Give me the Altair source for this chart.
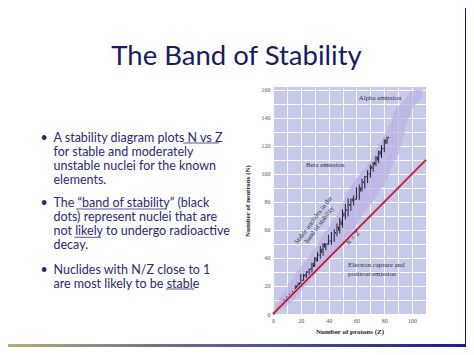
import altair as alt
import pandas as pd

# ---------------- data ----------------
Z_STABLE = [1, 2, 3, 4, 5, 6, 7, 8, 9, 10, 11, 12, 13, 14, 15, 16, 17, 18, 19, 20,
            21, 22, 23, 24, 25, 26, 27, 28, 29, 30, 31, 32, 33, 34, 35, 36, 37, 38, 39, 40,
            41, 42, 44, 45, 46, 47, 48, 49, 50, 51, 52, 53, 54, 55, 56, 57, 58, 59, 60,
            62, 63, 64, 65, 66, 67, 68, 69, 70, 71, 72, 73, 74, 75, 76, 77, 78, 79, 80,
            81, 82, 83]
N_STABLE_LO = [0, 1, 3, 5, 5, 6, 7, 8, 10, 10, 12, 12, 14, 14, 16, 16, 18, 18, 20, 20,
               24, 24, 27, 26, 30, 28, 32, 30, 34, 34, 38, 38, 42, 40, 44, 42, 48, 46, 50, 50,
               52, 50, 52, 58, 56, 60, 58, 64, 62, 70, 68, 74, 70, 78, 74, 81, 78, 82, 82,
               82, 88, 88, 94, 90, 98, 94, 100, 98, 104, 102, 107, 106, 110, 108, 114, 112, 118, 116,
               122, 122, 126]
N_STABLE_HI = [1, 2, 4, 5, 6, 7, 8, 10, 10, 12, 12, 14, 14, 16, 16, 20, 20, 22, 22, 28,
               24, 28, 28, 30, 30, 32, 32, 36, 36, 40, 40, 44, 42, 48, 46, 50, 50, 50, 50, 56,
               52, 58, 60, 58, 64, 62, 68, 66, 74, 72, 78, 74, 82, 78, 82, 82, 84, 82, 90,
               92, 90, 96, 94, 98, 98, 102, 100, 106, 105, 108, 108, 112, 112, 116, 116, 120, 118, 124,
               124, 126, 126]

Z_BAND = [1, 2, 3, 4, 5, 6, 7, 8, 9, 10, 11, 12, 13, 14, 15, 16, 17, 18, 19, 20,
          21, 22, 23, 24, 25, 26, 27, 28, 29, 30, 31, 32, 33, 34, 35, 36, 37, 38, 39, 40,
          41, 42, 43, 44, 45, 46, 47, 48, 49, 50, 51, 52, 53, 54, 55, 56, 57, 58, 59, 60,
          61, 62, 63, 64, 65, 66, 67, 68, 69, 70, 71, 72, 73, 74, 75, 76, 77, 78, 79, 80,
          81, 82, 83, 84, 85, 86, 87, 88, 89, 90, 91, 92, 93, 94, 95, 96, 97, 98, 99, 100,
          101, 102, 103, 104, 105, 106, 107]
N_BAND_LO = [0, 1, 1, 2, 3, 3, 4, 4, 5, 6, 7, 8, 9, 9, 10, 11, 14, 14, 16, 16,
             18, 18, 20, 20, 22, 23, 25, 25, 27, 28, 30, 30, 32, 33, 35, 35, 37, 38, 40, 40,
             42, 41, 43, 43, 44, 45, 47, 48, 49, 50, 52, 54, 55, 56, 57, 58, 60, 61, 62, 64,
             65, 67, 68, 70, 72, 73, 73, 75, 76, 78, 79, 81, 82, 84, 85, 86, 88, 90, 91, 91,
             95, 96, 99, 100, 104, 106, 108, 110, 112, 114, 117, 120, 124, 128, 132, 136, 139, 141, 144, 146,
             148, 149, 150, 151, 152, 153, 155]
N_BAND_HI = [2, 6, 8, 8, 12, 13, 14, 15, 17, 19, 21, 22, 24, 25, 26, 28, 30, 31, 32, 34,
             35, 36, 37, 38, 40, 41, 43, 44, 46, 47, 48, 50, 51, 53, 55, 56, 58, 59, 60, 62,
             63, 65, 66, 67, 69, 70, 72, 74, 76, 79, 81, 83, 85, 87, 89, 91, 92, 94, 95, 97,
             98, 99, 101, 102, 103, 104, 105, 107, 108, 109, 111, 113, 115, 117, 119, 121, 122, 124, 126, 128,
             130, 132, 134, 136, 137, 140, 145, 146, 147, 148, 149, 150, 151, 152, 153, 155, 156, 158, 159, 159,
             159, 160, 160, 160, 160, 160, 160]

LINE_Z = [0, 110]
LINE_N = [0, 110]

X_TICKS = [0, 10, 20, 30, 40, 50, 60, 70, 80, 90, 100, 110]
Y_TICKS = [0, 10, 20, 30, 40, 50, 60, 70, 80, 90, 100, 110, 120, 130, 140, 150, 160]

TITLE = "The Band of Stability"
BULLET1 = ["A stability diagram plots N vs Z", "for stable and moderately",
           "unstable nuclei for the known", "elements."]
BULLET2 = ["The \u201cband of stability\u201d (black", "dots) represent nuclei that are",
           "not likely to undergo radioactive", "decay."]
BULLET3 = ["Nuclides with N/Z close to 1", "are most likely to be stable"]

# ---------------- styles ----------------
NAVY = "#1a1a66"
TEXT_NAVY = "#2a2a70"
SERIF = "Liberation Serif"
SANS = "Lato"

stable = pd.DataFrame({"Z": Z_STABLE, "lo": N_STABLE_LO, "hi": N_STABLE_HI})
band = pd.DataFrame({"Z": Z_BAND, "lo": N_BAND_LO, "hi": N_BAND_HI})
nz = pd.DataFrame({"Z": LINE_Z, "N": LINE_N})

xscale = alt.Scale(domain=[0, 110], nice=False, zero=False)
yscale = alt.Scale(domain=[0, 162], nice=False, zero=False)

LBL = "datum.value % 20 == 0 ? datum.label : ''"
xaxis = alt.Axis(values=X_TICKS, title="Number of protons (Z)", titlePadding=4,
                 labelExpr=LBL, labelOverlap=False, labelFlush=False)
yaxis = alt.Axis(values=Y_TICKS, title="Number of neutrons (N)", titlePadding=11,
                 labelExpr=LBL, labelOverlap=False, labelFlush=False)

band_layer = alt.Chart(band).transform_calculate(
    z0="datum.Z - 0.5", z1="datum.Z + 0.5"
).mark_rect(color="#b9b1e2", opacity=0.8).encode(
    x=alt.X("z0:Q", scale=xscale, axis=xaxis),
    x2="z1:Q",
    y=alt.Y("lo:Q", scale=yscale, axis=yaxis),
    y2="hi:Q",
)

stable_layer = alt.Chart(stable).transform_calculate(
    z0="datum.Z - 0.35", z1="datum.Z + 0.35", n0="datum.lo - 0.5", n1="datum.hi + 0.5"
).mark_rect(color="#1a1a2c").encode(
    x=alt.X("z0:Q", scale=xscale, axis=xaxis), x2="z1:Q",
    y=alt.Y("n0:Q", scale=yscale, axis=yaxis), y2="n1:Q",
)

line_glow = alt.Chart(nz).mark_line(color="#e89ab6", strokeWidth=3.2).encode(
    x=alt.X("Z:Q", scale=xscale, axis=xaxis), y=alt.Y("N:Q", scale=yscale, axis=yaxis))
line_core = alt.Chart(nz).mark_line(color="#8e0f3a", strokeWidth=1.3).encode(
    x=alt.X("Z:Q", scale=xscale, axis=xaxis), y=alt.Y("N:Q", scale=yscale, axis=yaxis))


def note(txt, z, n, align="center", angle=0, style="normal"):
    return alt.Chart(pd.DataFrame({"t": [txt], "Z": [z], "N": [n]})).mark_text(
        font=SERIF, fontSize=6.8, color="#2f2f48", align=align, baseline="middle",
        angle=angle, fontStyle=style, lineHeight=7.5
    ).encode(x=alt.X("Z:Q", scale=xscale, axis=xaxis),
             y=alt.Y("N:Q", scale=yscale, axis=yaxis), text="t:N")


notes = [
    note("Alpha emission", 77, 154.5),
    note("Beta emission", 37.5, 106),
    note("Electron capture and", 54, 35, align="left"),
    note("positron emission", 54, 28.5, align="left"),
    note(["Stable nuclides in the", "band of stability"], 29, 67, angle=307),
    note("N = Z", 57.5, 54, angle=314, style="italic"),
]


def slide_text(lines, x, y, size, color, font=SANS, align="left", lh=14):
    return alt.Chart(pd.DataFrame({"t": [lines]})).mark_text(
        font=font, fontSize=size, color=color, align=align, baseline="alphabetic",
        lineHeight=lh
    ).encode(x=alt.value(x), y=alt.value(y), text="t:N")


def underline(x0, x1, y):
    return alt.Chart(pd.DataFrame({"a": [0]})).mark_rule(color=TEXT_NAVY, strokeWidth=0.8).encode(
        x=alt.value(x0), x2=alt.value(x1), y=alt.value(y))


BX = -219.5
slide = [
    slide_text(TITLE, -36.5, -22, 27.5, NAVY, align="center"),
    slide_text("\u2022", -229, 54.5, 12.5, TEXT_NAVY, align="center"),
    slide_text(BULLET1, BX, 54.5, 12.5, TEXT_NAVY),
    slide_text("\u2022", -229, 120, 12.5, TEXT_NAVY, align="center"),
    slide_text(BULLET2, BX, 120, 12.5, TEXT_NAVY),
    slide_text("\u2022", -229, 187, 12.5, TEXT_NAVY, align="center"),
    slide_text(BULLET3, BX, 187, 12.5, TEXT_NAVY),
    underline(-89.7, -54, 56),
    underline(-197, -106, 122),
    underline(-198.7, -172, 150.3),
    underline(-107, -78.7, 202),
]

frame_bottom = alt.Chart(pd.DataFrame({"a": [0]})).mark_rect(
    color=alt.Gradient(gradient="linear", x1=0, x2=1, y1=0, y2=0,
                       stops=[alt.GradientStop(offset=0, color="#b8ad78"),
                              alt.GradientStop(offset=0.35, color="#6a6f8a"),
                              alt.GradientStop(offset=1, color="#1a1f8a")])
).encode(x=alt.value(-265), x2=alt.value(193), y=alt.value(257), y2=alt.value(260))
frame_right = alt.Chart(pd.DataFrame({"a": [0]})).mark_rect(color="#141a88").encode(
    x=alt.value(192), x2=alt.value(193), y=alt.value(-79), y2=alt.value(260))

chart = alt.layer(
    band_layer, stable_layer, line_glow, line_core, *notes, *slide, frame_bottom, frame_right
).properties(
    width=153, height=227,
    autosize=alt.AutoSizeParams(type="none"),
    padding={"left": 265, "top": 79, "right": 40, "bottom": 33},
    background="white",
).configure_view(
    fill="#c6cae8", stroke=None
).configure_axis(
    grid=True, gridColor="white", gridWidth=1, gridOpacity=0.9,
    domain=False, ticks=False, labelFont=SERIF, labelFontSize=6, labelColor="#555",
    labelPadding=3, labelOverlap=False, labelFlush=False,
    titleFont=SERIF, titleFontSize=7, titleFontWeight="bold", titleColor="#222",
)

chart.save("out.html", embed_options={"renderer": "svg", "actions": False})
